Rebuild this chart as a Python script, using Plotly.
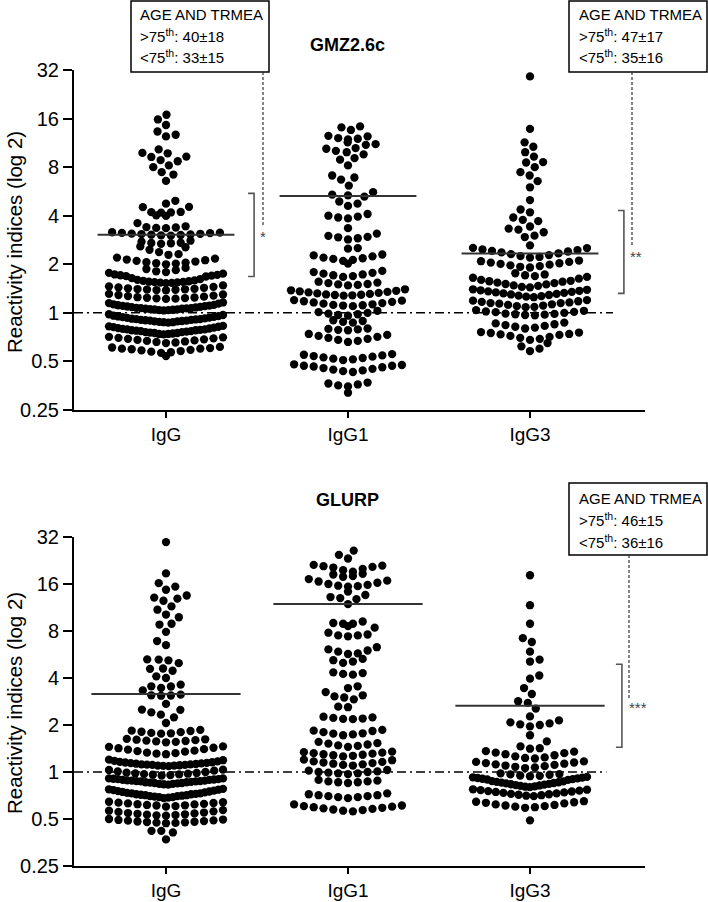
import math
import numpy as np
import plotly.graph_objects as go

# ---------------- data ----------------
categories = ["IgG", "IgG1", "IgG3"]
y_ticks = [0.25, 0.5, 1, 2, 4, 8, 16, 32]
y_tick_labels = ["0.25", "0.5", "1", "2", "4", "8", "16", "32"]
panel_titles = ["GMZ2.6c", "GLURP"]
y_title = "Reactivity indices (log 2)"

gmz_igg = [
    16.9, 15.8, 14.6, 13.3, 12.7, 12.4,
    10.3, 9.8, 9.75, 9.3, 9.25, 8.85, 8.7, 8.2, 8.0, 7.45, 7.2, 6.57,
    4.95, 4.75, 4.54, 4.52, 4.22, 4.19, 4.02, 3.99, 4.18, 4.21,
    3.6, 3.44, 3.38, 3.36, 3.35, 3.4,
    3.01, 3.02, 3.04, 3.05, 3.06, 3.08, 3.09, 3.1, 3.12, 3.13, 3.14, 3.16,
    2.8, 2.76, 2.72, 2.71, 2.7, 2.68, 2.58, 2.55,
    2.46, 2.38, 2.31, 2.29,
    2.0, 2.02, 2.03, 2.05, 2.06, 2.08, 2.1, 2.12, 2.14, 2.17, 2.2,
    1.68, 1.69, 1.7, 1.71, 1.72, 1.73, 1.75, 1.77, 1.79, 1.81, 1.84, 1.87, 1.9,
    1.53, 1.535, 1.54, 1.545, 1.55, 1.555, 1.56, 1.57, 1.58, 1.59, 1.6, 1.62, 1.64,
    1.38, 1.385, 1.39, 1.395, 1.4, 1.405, 1.41, 1.42, 1.43, 1.44, 1.45, 1.46, 1.48,
    1.22, 1.225, 1.23, 1.235, 1.24, 1.245, 1.25, 1.26, 1.27, 1.28, 1.29, 1.3, 1.31,
    1.035, 1.04, 1.04, 1.045, 1.05, 1.05, 1.055, 1.06, 1.06, 1.065, 1.07, 1.07, 1.075,
    1.08, 1.085, 1.09, 1.095, 1.1, 1.105, 1.11, 1.115, 1.12, 1.13, 1.14, 1.15, 1.16,
    0.87, 0.875, 0.875, 0.88, 0.885, 0.885, 0.89, 0.895, 0.895, 0.9, 0.905, 0.905, 0.91,
    0.915, 0.915, 0.92, 0.925, 0.93, 0.935, 0.94, 0.945, 0.95, 0.955, 0.96, 0.97, 0.98,
    0.735, 0.74, 0.74, 0.745, 0.75, 0.75, 0.755, 0.76, 0.76, 0.765, 0.77, 0.77, 0.775,
    0.78, 0.78, 0.785, 0.79, 0.79, 0.795, 0.8, 0.805, 0.81, 0.815, 0.82, 0.825, 0.83,
    0.65, 0.655, 0.66, 0.665, 0.67, 0.675, 0.68, 0.685, 0.69, 0.695, 0.7, 0.705, 0.71,
    0.54, 0.565, 0.57, 0.575, 0.58, 0.585, 0.59, 0.595, 0.6, 0.6, 0.605, 0.61, 0.615,
]

gmz_igg1 = [
    14.3, 14.1, 13.6,
    12.4, 12.1, 11.4, 12.0, 11.9, 12.5,
    11.0, 10.4, 9.9, 9.6, 10.1, 10.5, 11.1, 9.1, 8.9,
    8.2,
    7.1, 6.9, 6.7,
    6.15,
    5.6, 5.4, 5.35, 5.25,
    4.9, 4.75, 4.6,
    4.1, 4.0, 3.95, 3.9, 3.85,
    3.35,
    3.1, 3.0, 2.96, 2.94, 2.9, 2.85,
    2.52, 2.5,
    2.3, 2.27, 2.24, 2.2, 2.18, 2.16, 2.13, 2.1, 2.02,
    1.82, 1.79, 1.77, 1.75, 1.73, 1.71, 1.69, 1.67,
    1.56, 1.54, 1.53, 1.51, 1.5, 1.49, 1.48,
    1.28, 1.285, 1.29, 1.295, 1.3, 1.31, 1.32, 1.33, 1.34, 1.35, 1.36, 1.37, 1.38, 1.4,
    1.1, 1.11, 1.115, 1.12, 1.13, 1.14, 1.15, 1.16, 1.17, 1.18, 1.19, 1.2,
    0.96, 0.97, 0.98, 0.99, 1.0, 1.01, 1.03,
    0.87, 0.88, 0.89, 0.9,
    0.78, 0.785, 0.79, 0.795, 0.8,
    0.66, 0.67, 0.68, 0.69, 0.7, 0.71, 0.72, 0.73, 0.74,
    0.51, 0.515, 0.52, 0.525, 0.53, 0.535, 0.54, 0.545, 0.55, 0.555,
    0.43, 0.435, 0.44, 0.445, 0.45, 0.455, 0.46, 0.465, 0.47, 0.47, 0.475, 0.48,
    0.35, 0.355, 0.36, 0.365, 0.37,
    0.32,
]

gmz_igg3 = [
    29.2, 13.8, 11.4, 10.7, 9.9, 9.3, 8.6, 8.55, 8.0, 7.45, 7.1, 6.55, 6.0, 5.0,
    4.37, 4.2, 3.9,
    3.77, 3.7, 3.43, 3.33, 3.28, 3.16, 3.01, 2.95,
    2.62, 2.53, 2.52,
    2.2, 2.22, 2.25, 2.28, 2.31, 2.34, 2.37, 2.4, 2.42, 2.45, 2.47,
    1.91, 1.93, 1.95, 1.97, 1.99, 2.01, 2.03, 2.05, 2.07, 2.09, 2.11,
    1.63, 1.65, 1.67, 1.69, 1.71, 1.73, 1.76,
    1.44, 1.45, 1.47, 1.48, 1.5, 1.51, 1.53, 1.54, 1.56, 1.57, 1.58, 1.6,
    1.25, 1.26, 1.27, 1.28, 1.29, 1.3, 1.31, 1.32, 1.33, 1.34, 1.35, 1.36, 1.37, 1.38, 1.39, 1.4,
    1.085, 1.09, 1.1, 1.11, 1.12, 1.13, 1.14, 1.15, 1.15, 1.16, 1.17, 1.18, 1.19, 1.2,
    0.965, 0.97, 0.975, 0.98, 0.985, 0.99, 1.0, 1.01, 1.015, 1.02, 1.03, 1.04,
    0.8, 0.81, 0.82, 0.83, 0.84, 0.85, 0.86, 0.87,
    0.68, 0.69, 0.7, 0.71, 0.72, 0.73, 0.735, 0.74, 0.75, 0.755, 0.76,
    0.58, 0.6, 0.62, 0.65,
]

glurp_igg = [
    29.7, 18.7, 16.2, 15.4, 14.7, 13.5, 13.1, 12.9, 12.5, 11.5, 10.95, 10.2, 9.8, 8.9, 8.8, 7.9, 6.9, 6.5,
    5.26, 5.25, 5.19, 4.98, 4.6, 4.58, 4.45, 4.1, 4.0,
    3.63, 3.54, 3.53, 3.46, 3.33, 3.13, 3.09, 3.08, 3.1,
    2.73, 2.51, 2.5, 2.41, 2.33, 2.24, 2.06,
    1.76, 1.77, 1.78, 1.8, 1.81, 1.83, 1.84, 1.86,
    1.55, 1.56, 1.57, 1.58, 1.59, 1.6, 1.61, 1.62, 1.63,
    1.3, 1.31, 1.32, 1.33, 1.35, 1.36, 1.37, 1.39, 1.4, 1.42, 1.43, 1.45, 1.46,
    1.09, 1.095, 1.1, 1.1, 1.105, 1.11, 1.11, 1.115, 1.12, 1.12, 1.125, 1.13,
    1.135, 1.14, 1.145, 1.15, 1.155, 1.16, 1.17, 1.18, 1.19, 1.2,
    0.95, 0.955, 0.96, 0.965, 0.97, 0.975, 0.98, 0.985, 0.99, 1.0, 1.01, 1.02, 1.03, 1.035,
    0.83, 0.835, 0.84, 0.84, 0.845, 0.85, 0.85, 0.855, 0.86, 0.86, 0.865, 0.87, 0.87,
    0.875, 0.875, 0.88, 0.88, 0.885, 0.89, 0.89, 0.895, 0.9, 0.9, 0.905, 0.91, 0.91,
    0.68, 0.685, 0.69, 0.69, 0.695, 0.7, 0.7, 0.705, 0.71, 0.71, 0.715, 0.72, 0.72,
    0.725, 0.73, 0.73, 0.735, 0.74, 0.745, 0.75, 0.755, 0.76, 0.765, 0.77, 0.775, 0.78,
    0.6, 0.605, 0.61, 0.612, 0.615, 0.62, 0.622, 0.625, 0.63, 0.633, 0.636, 0.64, 0.645,
    0.525, 0.528, 0.53, 0.533, 0.536, 0.54, 0.543, 0.546, 0.55, 0.555, 0.56, 0.565, 0.57,
    0.47, 0.472, 0.474, 0.476, 0.478, 0.48, 0.482, 0.485, 0.488, 0.49, 0.493, 0.496, 0.5,
    0.42, 0.41, 0.42, 0.37,
]

glurp_igg1 = [
    26.2, 24.6, 23.3,
    21.0, 20.6, 20.0, 19.2, 19.6, 20.4, 20.8, 21.2,
    18.6, 18.0, 17.2, 16.6, 16.3, 16.8, 17.8, 18.4,
    16.0, 15.6, 15.4, 15.8, 15.5,
    14.3, 13.6, 13.2, 13.0, 12.8,
    11.9,
    9.2, 8.9, 8.6, 8.4, 8.9, 9.0,
    7.6, 7.5, 7.5, 7.4, 7.8,
    6.3, 6.1, 5.9, 6.0, 5.7, 5.75, 5.3, 5.2, 5.1, 5.0,
    4.35, 4.25, 4.2, 4.3,
    3.54, 3.45, 3.25, 3.1, 3.05, 3.0, 2.92,
    2.62, 2.6,
    2.24, 2.22, 2.2, 2.18, 2.19, 2.26,
    1.86, 1.83, 1.8, 1.77, 1.74, 1.72, 1.76, 1.84,
    1.56, 1.53, 1.5, 1.47, 1.45, 1.48, 1.52,
    1.26, 1.27, 1.28, 1.29, 1.3, 1.31, 1.32, 1.33, 1.34, 1.35,
    1.1, 1.11, 1.12, 1.13, 1.14, 1.15, 1.16, 1.17, 1.19, 1.2,
    0.97, 0.98, 0.98, 0.99, 1.0, 1.0, 1.01, 1.02, 1.03,
    0.85, 0.86, 0.86, 0.87, 0.87, 0.88, 0.89,
    0.68, 0.69, 0.69, 0.7, 0.7, 0.71, 0.71, 0.72, 0.73,
    0.56, 0.565, 0.57, 0.575, 0.58, 0.585, 0.59, 0.595, 0.6, 0.605, 0.61, 0.62,
]

glurp_igg3 = [
    18.2, 11.7, 8.9, 7.2, 6.8, 5.9, 5.25, 5.1, 4.15, 3.96, 3.45, 3.16, 2.84, 2.77, 2.55,
    2.27, 2.14, 2.08, 2.05, 2.02, 2.0, 1.96,
    1.72, 1.57,
    1.46, 1.42, 1.41,
    1.22, 1.23, 1.24, 1.26, 1.28, 1.3, 1.32, 1.33, 1.35, 1.36,
    1.06, 1.07, 1.08, 1.09, 1.1, 1.11, 1.12, 1.13, 1.14, 1.15, 1.16, 1.17,
    0.89, 0.895, 0.9, 0.905, 0.91, 0.915, 0.92, 0.925, 0.93, 0.94, 0.945, 0.95, 0.96, 0.965, 0.97, 0.98,
    0.8, 0.805, 0.81, 0.815, 0.82, 0.825, 0.83, 0.835, 0.84, 0.845, 0.85, 0.855, 0.86, 0.865, 0.87, 0.875,
    0.7, 0.705, 0.71, 0.715, 0.72, 0.725, 0.73, 0.735, 0.74, 0.745, 0.75, 0.755, 0.76, 0.765, 0.77, 0.775,
    0.59, 0.595, 0.6, 0.605, 0.61, 0.615, 0.62, 0.63, 0.635, 0.64, 0.645, 0.65,
    0.49,
]

gmz_means = [3.05, 5.3, 2.33]
glurp_means = [3.16, 11.9, 2.66]

box_texts = [
    ["AGE AND TRMEA", "&gt;75<sup>th</sup>: 40±18", "&lt;75<sup>th</sup>: 33±15"],
    ["AGE AND TRMEA", "&gt;75<sup>th</sup>: 47±17", "&lt;75<sup>th</sup>: 35±16"],
    ["AGE AND TRMEA", "&gt;75<sup>th</sup>: 46±15", "&lt;75<sup>th</sup>: 36±16"],
]
stars = ["*", "**", "***"]
# (panel, x position in category units, top value, bottom value)
brackets = [(0, 0.484, 5.5, 1.68), (0, 2.516, 4.31, 1.32), (1, 2.505, 4.9, 1.44)]

# ---------------- layout constants (pixels) ----------------
W, H = 708, 902
X_LEFT, X_RIGHT = 74, 645
CAT_X0, CAT_STEP = 166, 182
PANELS = [(70, 410), (537, 866)]  # y pixel of 32 and of 0.25
FONT = "Liberation Sans, Arial, sans-serif"


def px_x(p):
    return p / W


def px_y(p):
    return 1 - p / H


def column_offsets(values, ppo, D=9.8, maxw=57, gap=1.8, span=10.5):
    """Horizontal pixel offsets for a column scatter: near-equal values form rows,
    isolated values are placed as a bee swarm."""
    ys = np.log2(np.asarray(values, dtype=float)) * ppo
    order = list(np.argsort(ys, kind="stable"))
    clusters = []
    for i in order:
        if clusters and ys[i] - ys[clusters[-1][-1]] <= gap and ys[i] - ys[clusters[-1][0]] <= span:
            clusters[-1].append(i)
        else:
            clusters.append([i])
    out = np.zeros(len(values))
    placed = []
    flip = 1
    for cl in clusters:
        n = len(cl)
        if n >= 4:
            s = min(D, 2 * maxw / (n - 1))
            slots = []
            if n % 2:
                slots.append(0.0)
                k = 1
                while len(slots) < n:
                    slots += [flip * k * s, -flip * k * s]
                    k += 1
            else:
                k = 1
                while len(slots) < n:
                    slots += [flip * (k - 0.5) * s, -flip * (k - 0.5) * s]
                    k += 1
            flip = -flip
            for idx, sx in zip(cl, slots[:n]):
                out[idx] = sx
                placed.append((sx, ys[idx]))
        else:
            for idx in cl:
                y = ys[idx]
                near = [(a, b) for a, b in placed if abs(b - y) < D]
                cands = [0.0]
                for a, b in near:
                    dx = math.sqrt(max(D * D - (b - y) ** 2, 0))
                    cands += [a + dx, a - dx]
                ok = [c for c in cands if abs(c) <= maxw + 1e-6 and
                      all((c - a) ** 2 + (b - y) ** 2 >= D * D - 1e-6 for a, b in near)]
                if ok:
                    x = min(ok, key=lambda c: (round(abs(c), 2), flip * c))
                    flip = -flip
                else:
                    grid = np.linspace(-maxw, maxw, 115)
                    x = max(grid, key=lambda c: min((c - a) ** 2 + (b - y) ** 2 for a, b in near))
                out[idx] = x
                placed.append((x, y))
    return out


fig = go.Figure()
panel_data = [[gmz_igg, gmz_igg1, gmz_igg3], [glurp_igg, glurp_igg1, glurp_igg3]]
panel_means = [gmz_means, glurp_means]
half_len = [0.376, 0.41]
dd_end = [2.456, 2.42]

for p, (ytop, ybot) in enumerate(PANELS):
    xa = "x" if p == 0 else "x2"
    ya = "y" if p == 0 else "y2"
    ppo = (ybot - ytop) / 7.0
    fig.add_trace(go.Scatter(x=[(X_LEFT - CAT_X0) / CAT_STEP, dd_end[p]], y=[1, 1], mode="lines",
                             line=dict(color="black", width=1.5, dash="9px,4px,2px,4px"),
                             xaxis=xa, yaxis=ya, showlegend=False, hoverinfo="skip"))
    for i, vals in enumerate(panel_data[p]):
        offs = column_offsets(vals, ppo)
        fig.add_trace(go.Scatter(x=i + offs / CAT_STEP, y=vals, mode="markers",
                                 marker=dict(color="black", size=8.3, line=dict(width=0)),
                                 xaxis=xa, yaxis=ya, showlegend=False, name=categories[i]))
    for i, m in enumerate(panel_means[p]):
        fig.add_trace(go.Scatter(x=[i - half_len[p], i + half_len[p]], y=[m, m], mode="lines",
                                 line=dict(color="#333333", width=2),
                                 xaxis=xa, yaxis=ya, showlegend=False, hoverinfo="skip"))

tick = 6 / CAT_STEP
for p, xb, yt, yb in brackets:
    xa = "x" if p == 0 else "x2"
    ya = "y" if p == 0 else "y2"
    fig.add_trace(go.Scatter(x=[xb - tick, xb, xb, xb - tick], y=[yt, yt, yb, yb], mode="lines",
                             line=dict(color="#555555", width=1.6),
                             xaxis=xa, yaxis=ya, showlegend=False, hoverinfo="skip"))

axis_common = dict(showline=True, linecolor="black", linewidth=2, ticks="outside",
                   tickwidth=2, tickcolor="black", showgrid=False, zeroline=False,
                   tickfont=dict(family=FONT, size=20, color="black"), fixedrange=True,
                   automargin=False)

layout = dict(width=W, height=H, margin=dict(l=0, r=0, t=0, b=0, pad=0), autosize=False,
              plot_bgcolor="white", paper_bgcolor="white", showlegend=False)

for p, (ytop, ybot) in enumerate(PANELS):
    sfx = "" if p == 0 else "2"
    layout["xaxis" + sfx] = dict(axis_common, domain=[px_x(X_LEFT), px_x(X_RIGHT)],
                                 range=[(X_LEFT - CAT_X0) / CAT_STEP, (X_RIGHT - CAT_X0) / CAT_STEP],
                                 tickvals=[0, 1, 2], ticktext=categories, ticklen=6,
                                 tickfont=dict(family=FONT, size=19, color="black"),
                                 anchor="y" + sfx)
    layout["yaxis" + sfx] = dict(axis_common, domain=[px_y(ybot), px_y(ytop)], type="log",
                                 range=[math.log10(0.25), math.log10(32)],
                                 tickvals=y_ticks, ticktext=y_tick_labels, ticklen=9,
                                 anchor="x" + sfx)
fig.update_layout(**layout)

ann = []
shapes = []
for t, ypx in zip(panel_titles, [45, 500]):
    ann.append(dict(text=f"<b>{t}</b>", x=px_x(347), y=px_y(ypx), xref="paper", yref="paper",
                    xanchor="center", yanchor="middle", showarrow=False,
                    font=dict(family=FONT, size=18, color="black")))
for ypx in [242, 703]:
    ann.append(dict(text=y_title, x=px_x(14), y=px_y(ypx), xref="paper", yref="paper",
                    xanchor="center", yanchor="middle", textangle=-90, showarrow=False,
                    font=dict(family=FONT, size=20.5, color="black")))
boxes = [(131, 1, 269, 72, 138, [15, 35.5, 56]),
         (569, 1, 707, 72, 577, [15, 35.5, 56]),
         (569, 483, 707, 555, 577, [498, 519.5, 541])]
for (x0, y0, x1, y1, tx, lines), txts in zip(boxes, box_texts):
    shapes.append(dict(type="rect", xref="paper", yref="paper", x0=px_x(x0), x1=px_x(x1),
                       y0=px_y(y0), y1=px_y(y1), line=dict(color="black", width=1.5),
                       fillcolor="white", layer="above"))
    for t, ly in zip(txts, lines):
        ann.append(dict(text=t, x=px_x(tx), y=px_y(ly), xref="paper", yref="paper",
                        xanchor="left", yanchor="middle", showarrow=False,
                        font=dict(family=FONT, size=15, color="black")))
for xx, ya0, ya1 in [(263, 72, 225), (632, 72, 245), (629, 555, 700)]:
    shapes.append(dict(type="line", xref="paper", yref="paper", x0=px_x(xx), x1=px_x(xx),
                       y0=px_y(ya0), y1=px_y(ya1), line=dict(color="#333333", width=1.2, dash="3px,2px")))
for s, (sx, sy) in zip(stars, [(263, 237), (636, 256), (638, 707)]):
    ann.append(dict(text=s, x=px_x(sx), y=px_y(sy), xref="paper", yref="paper",
                    xanchor="center", yanchor="middle", showarrow=False,
                    font=dict(family=FONT, size=15, color="#444444")))

fig.update_layout(annotations=ann, shapes=shapes)
fig.write_html("out.html", config={"displayModeBar": False},
               post_script="document.body.style.margin='0';document.documentElement.style.overflow='hidden';")
